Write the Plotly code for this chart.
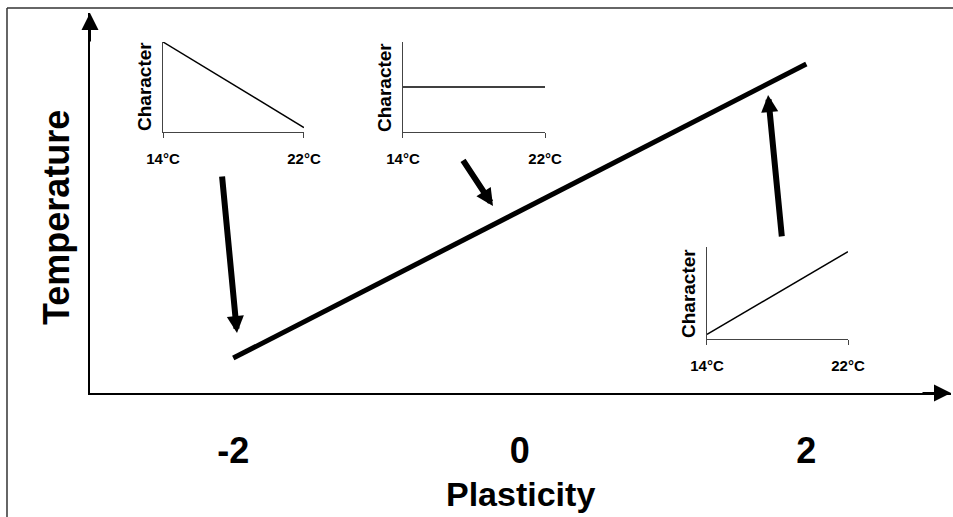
import plotly.graph_objects as go

# ---- data ----
plasticity = [-2, 2]
temperature = [14, 22]
plasticity_tickvals = [-2, 0, 2]
plasticity_ticktext = ["-2", "0", "2"]

inset_temps = [14, 22]
inset_ticktext = ["14°C", "22°C"]
character_negative = [1.0, 0.05]
character_flat = [0.5, 0.5]
character_positive = [0.05, 0.95]

# pointer arrows (tail -> head) in plasticity / temperature units
arrow_tail_x = [-2.079, -0.403, 1.830]
arrow_tail_y = [18.98, 19.42, 17.27]
arrow_head_x = [-1.974, -0.187, 1.733]
arrow_head_y = [14.68, 18.14, 21.16]

FONT = "Liberation Sans, Arial, Helvetica, sans-serif"

fig = go.Figure()

fig.add_trace(go.Scatter(x=plasticity, y=temperature, mode="lines",
                         line=dict(color="black", width=5), xaxis="x", yaxis="y",
                         hoverinfo="skip"))

insets = [
    ("x2", "y2", character_negative),
    ("x3", "y3", character_flat),
    ("x4", "y4", character_positive),
]
for xa, ya, vals in insets:
    fig.add_trace(go.Scatter(x=inset_temps, y=vals, mode="lines",
                             line=dict(color="black", width=1.5),
                             xaxis=xa, yaxis=ya, hoverinfo="skip"))

main_x = dict(domain=[0, 1], range=[-3, 3.01], showline=True, linecolor="black",
              linewidth=2, showgrid=False, zeroline=False, ticks="",
              tickvals=plasticity_tickvals, ticktext=plasticity_ticktext,
              tickfont=dict(family=FONT, size=36, color="black", weight="bold"),
              ticklabelstandoff=25, anchor="y", automargin=False)
main_y = dict(domain=[0, 1], range=[13.05, 23.39], showline=True, linecolor="black",
              linewidth=2, showgrid=False, zeroline=False, ticks="",
              showticklabels=False, anchor="x", automargin=False)

def inset_x(domain, anchor):
    return dict(domain=domain, range=[14, 22], anchor=anchor, showline=True,
                linecolor="#444", linewidth=1, ticks="outside", ticklen=5,
                tickwidth=1, tickcolor="#444", tickvals=inset_temps,
                ticktext=inset_ticktext, showgrid=False, zeroline=False,
                tickfont=dict(family=FONT, size=15, color="black", weight="bold"),
                ticklabelstandoff=8, automargin=False)

def inset_y(domain, anchor):
    return dict(domain=domain, range=[0, 1], anchor=anchor, showline=True,
                linecolor="#444", linewidth=1, ticks="", showticklabels=False,
                showgrid=False, zeroline=False, automargin=False)

fig.update_layout(
    width=953, height=517, autosize=False,
    margin=dict(l=90, r=2, t=13, b=124, pad=0, autoexpand=False),
    paper_bgcolor="white", plot_bgcolor="rgba(0,0,0,0)",
    showlegend=False,
    xaxis=main_x, yaxis=main_y,
    xaxis2=inset_x([0.0848, 0.2485], "y2"), yaxis2=inset_y([0.6868, 0.9237], "x2"),
    xaxis3=inset_x([0.3635, 0.5285], "y3"), yaxis3=inset_y([0.6868, 0.9237], "x3"),
    xaxis4=inset_x([0.7166, 0.8804], "y4"), yaxis4=inset_y([0.1421, 0.3842], "x4"),
)

annotations = []
# axis arrowheads
annotations.append(dict(x=1, y=0, xref="x domain", yref="y domain", ax=-30, ay=0,
                        text="", showarrow=True, arrowhead=2, arrowsize=1.7,
                        arrowwidth=2, arrowcolor="black", standoff=0))
annotations.append(dict(x=0, y=1, xref="x domain", yref="y domain", ax=0, ay=30,
                        text="", showarrow=True, arrowhead=2, arrowsize=1.7,
                        arrowwidth=2, arrowcolor="black", standoff=0))
# pointer arrows
for tx, ty, hx, hy in zip(arrow_tail_x, arrow_tail_y, arrow_head_x, arrow_head_y):
    annotations.append(dict(x=hx, y=hy, ax=tx, ay=ty, xref="x", yref="y",
                            axref="x", ayref="y", text="", showarrow=True,
                            arrowhead=2, arrowsize=0.57, arrowwidth=6,
                            arrowcolor="black", standoff=0))
# main titles
annotations.append(dict(text="Plasticity", x=0.5, y=0, xref="x domain", yref="y domain",
                        yanchor="middle", xanchor="center", yshift=-101, showarrow=False,
                        font=dict(family=FONT, size=34, color="black", weight="bold")))
annotations.append(dict(text="Temperature", x=0, y=0.4605, xref="x domain", yref="y domain",
                        xanchor="center", yanchor="middle", xshift=-34, textangle=-90,
                        showarrow=False,
                        font=dict(family=FONT, size=36, color="black", weight="bold")))
# inset y titles
for xa, ya, _ in insets:
    annotations.append(dict(text="Character", x=0, y=0.5, xref=f"{xa} domain",
                            yref=f"{ya} domain", xanchor="center", yanchor="middle",
                            xshift=-19, textangle=-90, showarrow=False,
                            font=dict(family=FONT, size=19, color="black", weight="bold")))
fig.update_layout(annotations=annotations)

# figure border (left and top edges)
border = dict(color="#333", width=1.5)
fig.add_shape(type="line", xref="paper", yref="paper", x0=-0.0964, x1=-0.0964,
              y0=-0.34, y1=1.0132, line=border)
fig.add_shape(type="line", xref="paper", yref="paper", x0=-0.0964, x1=1.01,
              y0=1.0132, y1=1.0132, line=border)

fig.write_html("out.html",
               config={"displayModeBar": False, "responsive": False},
               post_script="document.body.style.margin='0px';"
                           "document.body.style.overflow='hidden';")
